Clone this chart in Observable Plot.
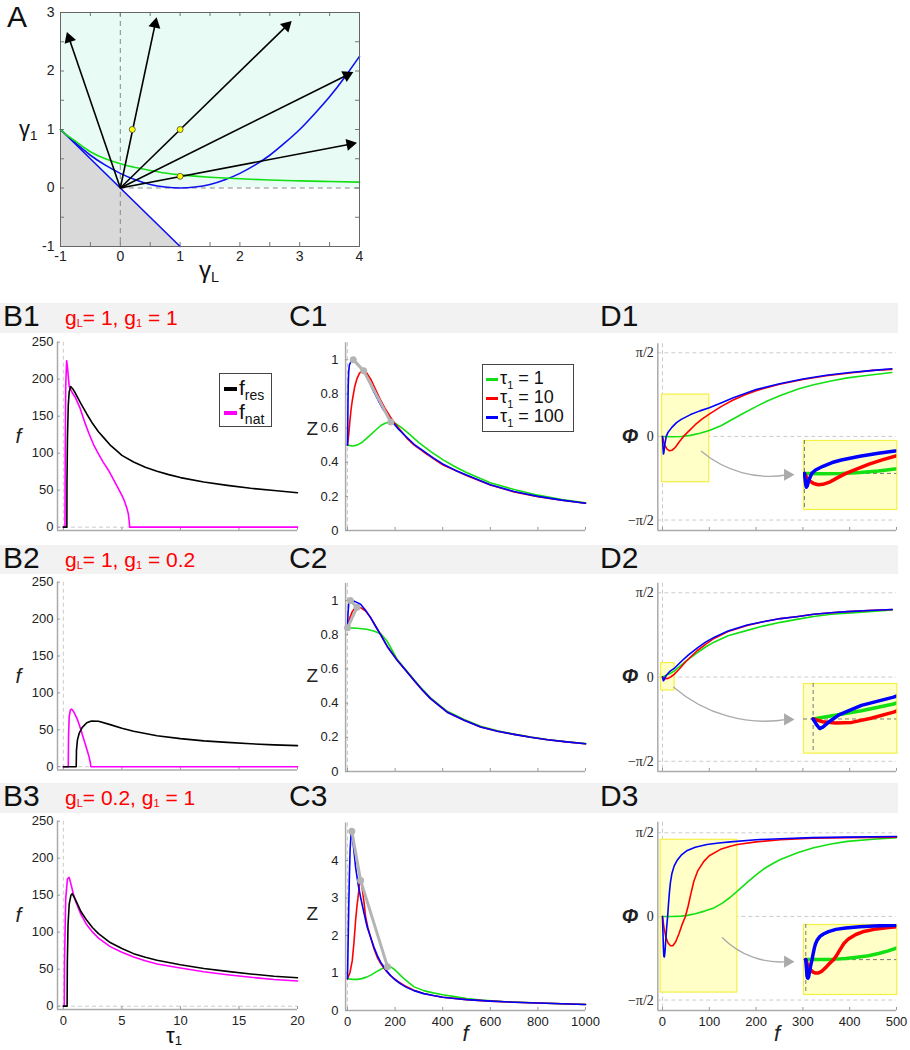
<!DOCTYPE html>
<html><head><meta charset="utf-8">
<script src="https://cdn.jsdelivr.net/npm/d3@7"></script>
<script src="https://cdn.jsdelivr.net/npm/@observablehq/plot@0.6"></script>
<style>
body{margin:0;background:#fff;font-family:"Liberation Sans",Arial,sans-serif;}
#fig{position:relative;width:910px;height:1050px;overflow:hidden;}
.bar{position:absolute;left:0;width:898px;background:#f2f2f2;}
.plab{position:absolute;font-size:30px;line-height:28px;color:#111;}
.red{position:absolute;font-size:21px;line-height:1;color:#f00;white-space:nowrap;}
.red sub{font-size:11px;vertical-align:-2px;}
.ax{position:absolute;line-height:1;color:#111;white-space:nowrap;}
.ax sub{font-size:60%;vertical-align:-4px;}
.legend{position:absolute;border:1px solid #444;background:#fff;box-sizing:border-box;}
.lrow{position:absolute;left:4px;white-space:nowrap;line-height:1;color:#111;}
.lrow i{display:inline-block;width:13px;height:4px;vertical-align:middle;margin-right:2px;}
</style></head><body><div id="fig"></div>
<script>
// ================= DATA =================
// Panel A
const aBlueLine = [[-1,1],[1,-1]];
const aBlueParabola = [[-1,1],[-0.75,0.77],[-0.5,0.56],[-0.25,0.39],[0,0.25],[0.25,0.14],[0.5,0.06],[0.75,0.016],[1,0],[1.25,0.016],[1.5,0.06],[1.75,0.14],[2,0.25],[2.25,0.39],[2.5,0.56],[2.75,0.77],[3,1],[3.25,1.27],[3.5,1.56],[3.75,1.89],[4,2.25]];
const aGreen = [[-1,1],[-0.9,0.91],[-0.75,0.8],[-0.5,0.62],[-0.25,0.5],[0,0.415],[0.25,0.35],[0.5,0.3],[0.75,0.255],[1,0.225],[1.5,0.185],[2,0.157],[2.5,0.137],[3,0.122],[3.5,0.11],[4,0.1]];
const aArrowEnds = [[-0.89,2.66],[0.605,2.91],[2.86,2.85],[3.89,1.98],[3.95,0.77]];
const aPoints = [[0.2,1],[1,1],[1,0.2]];
const aCyanRegion = [{x:-1,y1:1,y2:3},{x:0,y1:0,y2:3},{x:4,y1:0,y2:3}];
const aGrayRegion = [{x:-1,y1:-1,y2:1},{x:1,y1:-1,y2:-1}];
const aXTicks = [-1,0,1,2,3,4];
const aYTicks = [-1,0,1,2,3];
const aXMinor = [-0.5,0,0.5,1,1.5,2,2.5,3,3.5];
const aYMinor = [-0.5,0,0.5,1,1.5,2,2.5];

// Row headers
const rowTags = ["1","2","3"];
const rowParams = [["1","1"],["1","0.2"],["0.2","1"]];

// Panels B (tau1, f)
const bTicksY = [0,50,100,150,200,250];
const bTicksX = [0,5,10,15,20];
const b1Fres = [[0,0],[0.3,0],[0.31,60],[0.35,120],[0.42,165],[0.5,183],[0.62,190],[0.8,187],[1,182],[1.5,167],[2,153],[2.5,140],[3,129],[3.5,120],[4,111],[4.5,104],[5,97],[6,88],[7,81],[8,75.5],[9,71],[10,67],[12,61],[14,56.5],[16,52.5],[18,49.5],[20,46.5]];
const b1Fnat = [[0,0],[0.14,0],[0.16,100],[0.2,190],[0.28,225],[0.36,215],[0.5,190],[0.75,182],[1,176],[1.4,162],[1.8,143],[2.2,126],[2.6,111],[3,99],[3.4,88],[3.85,77],[4.3,64],[4.7,52],[5,43],[5.2,36],[5.4,27],[5.55,18],[5.62,9],[5.66,0],[20,0]];
const b2Fres = [[0,0],[1.1,0],[1.12,22],[1.2,36],[1.35,45],[1.6,53],[2,59.5],[2.4,62],[3,61.5],[4,57],[5,52],[6,48],[7,45],[8,42],[10,38],[12,35],[14,33],[16,31],[18,29.5],[20,28.5]];
const b2Fnat = [[0,0],[0.42,0],[0.44,40],[0.5,68],[0.6,77],[0.7,78],[0.9,74],[1.2,64],[1.5,50],[1.8,34],[2.0,24],[2.2,13],[2.3,6],[2.35,0],[20,0]];
const b3Fres = [[0,0],[0.32,0],[0.34,60],[0.4,110],[0.5,138],[0.65,150],[0.75,152],[1,145],[1.5,128],[2,116],[2.5,106],[3,98],[4,86],[5,78],[6,71],[7,66],[8,62],[10,56],[12,51],[14,47],[16,43.5],[18,40.5],[20,38.5]];
const b3Fnat = [[0,0],[0.08,0],[0.1,60],[0.2,145],[0.35,172],[0.5,174],[0.65,165],[0.85,152],[1,144],[1.5,124],[2,110],[2.5,100],[3,92],[4,80.5],[5,73],[6,66.5],[7,61.5],[8,57],[10,51.5],[12,46.5],[14,42.5],[16,39],[18,36],[20,34]];

// Panels C (f, Z)
const cTicksX = [0,200,400,600,800,1000];
const cTicksY12 = [0,0.2,0.4,0.6,0.8,1];
const cTicksY3 = [0,1,2,3,4];
const c1Green = [[0,0.5],[20,0.495],[40,0.5],[60,0.515],[80,0.54],[100,0.565],[120,0.59],[140,0.615],[160,0.63],[180,0.635],[200,0.628],[230,0.6],[260,0.565],[300,0.515],[350,0.462],[400,0.415],[450,0.375],[500,0.34],[600,0.28],[700,0.24],[800,0.207],[900,0.182],[1000,0.162]];
const c1Red = [[0,0.5],[5,0.56],[10,0.64],[15,0.71],[20,0.76],[30,0.84],[40,0.89],[50,0.92],[60,0.934],[70,0.935],[80,0.925],[100,0.88],[120,0.82],[140,0.76],[160,0.71],[180,0.665],[200,0.625],[250,0.54],[280,0.5],[320,0.46],[400,0.385],[500,0.322],[600,0.266],[700,0.226],[800,0.198],[900,0.177],[1000,0.16]];
const c1Blue = [[0,0.5],[1,0.6],[2,0.75],[3,0.85],[5,0.93],[8,0.97],[15,0.99],[24,1.0],[40,0.98],[55,0.955],[70,0.93],[90,0.875],[110,0.815],[130,0.76],[150,0.71],[180,0.65],[210,0.6],[250,0.545],[280,0.505],[320,0.465],[360,0.425],[400,0.39],[450,0.355],[500,0.325],[600,0.268],[700,0.228],[800,0.2],[900,0.178],[1000,0.16]];
const c1Peaks = [[24,1.0],[68,0.935],[182,0.635]];
const c2Green = [[0,0.84],[40,0.838],[80,0.832],[110,0.822],[140,0.805],[165,0.765],[180,0.728],[209,0.655],[245,0.595],[279,0.538],[315,0.48],[349,0.431],[385,0.39],[419,0.352],[490,0.304],[559,0.264],[630,0.238],[699,0.219],[770,0.201],[840,0.187],[920,0.174],[1000,0.163]];
const c2Red = [[0,0.84],[5,0.87],[10,0.9],[20,0.935],[30,0.953],[40,0.96],[55,0.958],[75,0.94],[97,0.9],[120,0.845],[139,0.8],[170,0.725],[209,0.65],[245,0.59],[279,0.533],[315,0.475],[349,0.426],[385,0.385],[419,0.347],[490,0.3],[559,0.26],[630,0.235],[699,0.217],[770,0.2],[840,0.186],[920,0.173],[1000,0.162]];
const c2Blue = [[0,0.84],[2,0.92],[5,0.98],[12,1.0],[30,0.995],[55,0.978],[75,0.945],[97,0.9],[120,0.845],[139,0.8],[170,0.725],[209,0.65],[245,0.59],[279,0.533],[315,0.475],[349,0.426],[385,0.385],[419,0.347],[490,0.3],[559,0.26],[630,0.235],[699,0.217],[770,0.2],[840,0.186],[920,0.173],[1000,0.162]];
const c2Peaks = [[0,0.84],[40,0.96],[12,1.0]];
const c3Green = [[0,0.845],[20,0.83],[40,0.83],[60,0.85],[80,0.89],[100,0.95],[120,1.03],[140,1.1],[160,1.16],[170,1.17],[185,1.15],[200,1.08],[230,0.89],[260,0.73],[280,0.63],[320,0.53],[360,0.47],[400,0.42],[450,0.37],[500,0.32],[560,0.28],[650,0.24],[800,0.2],[900,0.18],[1000,0.16]];
const c3Red = [[0,0.845],[10,1.0],[20,1.33],[27,1.8],[34,2.4],[40,2.8],[44,3.0],[50,3.35],[55,3.47],[60,3.35],[65,3.1],[70,2.85],[76,2.5],[86,2.2],[97,1.95],[110,1.67],[125,1.42],[139,1.26],[153,1.13],[170,1.0],[190,0.88],[210,0.78],[240,0.66],[279,0.54],[320,0.455],[360,0.4],[400,0.355],[500,0.29],[600,0.25],[700,0.22],[800,0.2],[900,0.18],[1000,0.16]];
const c3Blue = [[0,0.845],[2,1.6],[5,2.7],[8,3.6],[11,4.3],[15,4.7],[18,4.78],[22,4.55],[28,4.2],[34,3.82],[45,3.35],[55,3.02],[70,2.58],[83,2.22],[100,1.9],[111,1.69],[125,1.47],[139,1.29],[160,1.09],[181,0.93],[200,0.82],[223,0.71],[250,0.61],[279,0.53],[320,0.45],[360,0.4],[400,0.355],[450,0.32],[500,0.29],[600,0.25],[700,0.22],[800,0.2],[900,0.18],[1000,0.16]];
const c3Peaks = [[18,4.78],[55,3.47],[168,1.17]];

// Panels D (f, phase)
const dTicksX = [0,100,200,300,400,500];
const dTicksY = [-Math.PI/2, 0, Math.PI/2];
const d1Green = [[0,0],[20,-0.005],[40,0],[60,0.02],[80,0.06],[100,0.11],[125,0.2],[145,0.3],[170,0.42],[200,0.56],[225,0.67],[252,0.77],[290,0.89],[323,0.97],[360,1.04],[395,1.1],[440,1.15],[490,1.2]];
const d1Red = [[0,0],[2,-0.08],[5,-0.17],[10,-0.24],[15,-0.27],[20,-0.26],[28,-0.2],[36,-0.1],[45,0],[55,0.09],[70,0.22],[85,0.33],[100,0.42],[125,0.56],[150,0.68],[175,0.78],[200,0.86],[250,0.98],[300,1.07],[350,1.14],[400,1.19],[450,1.24],[490,1.26]];
const d1Blue = [[0,0],[1,-0.2],[2,-0.33],[3,-0.3],[5,-0.15],[8,0],[12,0.08],[20,0.17],[30,0.26],[40,0.32],[60,0.41],[80,0.48],[100,0.54],[125,0.63],[150,0.72],[175,0.8],[200,0.88],[250,0.99],[300,1.08],[350,1.15],[400,1.2],[450,1.24],[490,1.27]];
const d2Green = [[0,0],[5,0.02],[10,0.04],[15,0.06],[25,0.11],[40,0.22],[55,0.33],[74,0.45],[92,0.56],[110,0.65],[140,0.77],[181,0.87],[215,0.95],[252,1.02],[290,1.08],[323,1.13],[360,1.17],[395,1.19],[440,1.22],[491,1.25]];
const d2Red = [[0,0],[3,-0.02],[7,-0.03],[12,-0.025],[18,0.005],[25,0.05],[35,0.14],[50,0.29],[74,0.49],[92,0.61],[110,0.72],[140,0.85],[181,0.96],[215,1.03],[252,1.09],[290,1.13],[323,1.17],[360,1.2],[395,1.22],[440,1.24],[491,1.26]];
const d2Blue = [[0,0],[1,-0.04],[2,-0.07],[3,-0.06],[5,-0.02],[8,0.03],[15,0.1],[25,0.16],[40,0.29],[55,0.41],[74,0.54],[92,0.65],[110,0.74],[140,0.86],[181,0.97],[215,1.03],[252,1.09],[290,1.13],[323,1.17],[360,1.2],[395,1.22],[440,1.24],[491,1.26]];
const d3Green = [[0,0],[20,0],[40,0.005],[53,0.02],[70,0.05],[90,0.1],[110,0.16],[128,0.25],[145,0.36],[163,0.5],[181,0.64],[200,0.78],[216,0.89],[235,0.99],[252,1.07],[290,1.2],[323,1.29],[360,1.36],[395,1.41],[450,1.45],[500,1.48]];
const d3Red = [[0,0],[3,-0.2],[7,-0.38],[12,-0.5],[17,-0.55],[22,-0.55],[28,-0.48],[35,-0.33],[42,-0.15],[49,0],[55,0.2],[60,0.4],[67,0.66],[75,0.85],[88,1.03],[100,1.14],[124,1.26],[145,1.32],[160,1.35],[200,1.4],[252,1.44],[320,1.47],[395,1.48],[500,1.49]];
const d3Blue = [[0,0],[1,-0.3],[2,-0.6],[3,-0.75],[4,-0.76],[5,-0.7],[7,-0.45],[9,-0.2],[11,0],[13,0.25],[15,0.47],[17,0.64],[20,0.8],[25,0.95],[31,1.05],[40,1.15],[53,1.24],[70,1.3],[95,1.35],[120,1.38],[145,1.4],[200,1.44],[252,1.46],[320,1.48],[395,1.49],[500,1.5]];
// zoom boxes [f1, f2, phi1, phi2]
const dZoomBoxes = [[-1,100,-0.86,0.785],[-3,26,-0.25,0.26],[-4,160,-1.43,1.44]];
// annotation arrows [fStart, phiStart, fEnd, phiEnd]
const dZoomArrows = [[83,-0.28,280,-0.72],[24,-0.19,280,-0.79],[128,-0.40,280,-0.85]];

// ================= LAYOUT HELPERS =================
const fig = document.getElementById("fig");
function put(el, left, top){ el.style.position="absolute"; el.style.left=left+"px"; el.style.top=top+"px"; fig.appendChild(el); return el; }
function html(str, cls, left, top, extra){ const d=document.createElement("div"); d.className=cls; d.innerHTML=str; if(extra) Object.assign(d.style, extra); return put(d,left,top); }
function panel(box, frame, x, y, marks, font){
  const p = Plot.plot({
    width: box.w, height: box.h,
    marginLeft: frame.L-box.left, marginRight: box.left+box.w-frame.R,
    marginTop: frame.T-box.top, marginBottom: box.top+box.h-frame.B,
    x, y,
    style:{background:"transparent", fontFamily:font||"Liberation Sans, Arial, sans-serif", fontSize:"13px", color:"#222", overflow:"visible"},
    marks
  });
  return put(p, box.left, box.top);
}
const xy = {x:d=>d[0], y:d=>d[1]};
const plain = d => String(d);
const GREEN="#12e012", RED="#ff0000", BLUE="#0000ff", MAG="#ff00ff";

// ================= PANEL A =================
{
  const box={left:0,top:0,w:380,h:290}, frame={L:60,T:12,R:359,B:246};
  const fw=frame.R-frame.L, fh=frame.B-frame.T, kx=fw/5, ky=fh/4;
  const arrows = aArrowEnds.map(([ex,ey])=>{
    const sx=ex*kx, sy=ey*ky, len=Math.hypot(sx,sy), ux=sx/len, uy=sy/len;
    return {x1:0,y1:0,x2:ex-8*ux/kx,y2:ey-8*uy/ky,hx:ex-6.5*ux/kx,hy:ey-6.5*uy/ky,rot:Math.atan2(sx,sy)*180/Math.PI};
  });
  panel(box, frame, {domain:[-1,4], axis:null}, {domain:[-1,3], axis:null}, [
    Plot.areaY(aCyanRegion,{x:"x",y1:"y1",y2:"y2",fill:"#e8fbf4"}),
    Plot.areaY(aGrayRegion,{x:"x",y1:"y1",y2:"y2",fill:"#d9d9d9"}),
    Plot.ruleX([0],{stroke:"#888",strokeDasharray:"5,4"}),
    Plot.ruleY([{y:0,x1:0,x2:4}],{y:"y",x1:"x1",x2:"x2",stroke:"#888",strokeDasharray:"5,4"}),
    Plot.tickX(aXMinor,{x:d=>d,insetTop:fh-4,stroke:"#777"}),
    Plot.tickX(aXMinor,{x:d=>d,insetBottom:fh-4,stroke:"#777"}),
    Plot.tickY(aYMinor,{y:d=>d,insetRight:fw-4,stroke:"#777"}),
    Plot.tickY(aYMinor,{y:d=>d,insetLeft:fw-4,stroke:"#777"}),
    Plot.line(aBlueLine,{...xy,stroke:"#1010f0",strokeWidth:1.6}),
    Plot.line(aBlueParabola,{...xy,stroke:"#1010f0",strokeWidth:1.6,curve:"natural"}),
    Plot.line(aGreen,{...xy,stroke:GREEN,strokeWidth:1.6,curve:"natural"}),
    Plot.link(arrows,{x1:"x1",y1:"y1",x2:"x2",y2:"y2",stroke:"#000",strokeWidth:1.6}),
    Plot.dot(arrows,{x:"hx",y:"hy",symbol:"triangle",r:4.5,fill:"#000",rotate:"rot"}),
    Plot.dot(aPoints,{...xy,r:3,fill:"#ffff00",stroke:"#444",strokeWidth:0.8}),
    Plot.frame({stroke:"#666"}),
    Plot.axisX({ticks:aXTicks,tickSize:0,tickPadding:5,fontSize:14,tickFormat:plain}),
    Plot.axisY({ticks:aYTicks,tickSize:0,tickPadding:6,fontSize:14,tickFormat:plain})
  ]);
  html("A","plab",7,0,{fontSize:"30px",lineHeight:"34px"});
  html("γ<sub>1</sub>","ax",19,118,{fontSize:"22px"});
  html("γ<sub>L</sub>","ax",199,258,{fontSize:"24px"});
}

// ================= ROW HEADERS =================
const bars=[{top:303,h:30},{top:545,h:29},{top:783,h:30}];
bars.forEach((b,i)=>{
  const d=document.createElement("div"); d.className="bar"; d.style.height=b.h+"px"; put(d,0,b.top);
  const c=b.top+b.h/2;
  html("B"+rowTags[i],"plab",3,b.top-1);
  html("C"+rowTags[i],"plab",289,b.top-1);
  html("D"+rowTags[i],"plab",600,b.top-1);
  html(`g<sub>L</sub>= ${rowParams[i][0]}, g<sub>1</sub> = ${rowParams[i][1]}`,"red",65,c-11);
});

// ================= PANELS B =================
const bRows=[
  {fres:b1Fres,fnat:b1Fnat,box:{left:0,top:335,w:300,h:205},frame:{L:57,R:297,T:341.7,B:530}},
  {fres:b2Fres,fnat:b2Fnat,box:{left:0,top:575,w:300,h:205},frame:{L:57,R:297,T:581.7,B:769.5}},
  {fres:b3Fres,fnat:b3Fnat,box:{left:0,top:815,w:300,h:235},frame:{L:57,R:297,T:820.7,B:1009}}
];
bRows.forEach((r,i)=>{
  const fw=r.frame.R-r.frame.L, fh=r.frame.B-r.frame.T, last=i===2;
  panel(r.box, r.frame, {domain:[-0.5,20], axis:null}, {domain:[-4.5,250], axis:null}, [
    Plot.ruleX([0],{stroke:"#ccc",strokeDasharray:"4,3"}),
    Plot.ruleY([0],{stroke:"#ccc",strokeDasharray:"4,3"}),
    Plot.ruleX([-0.5],{stroke:"#aaa",strokeWidth:1.5}),
    Plot.ruleY([-4.5],{stroke:"#aaa",strokeWidth:1.5}),
    Plot.tickX(bTicksX,{x:d=>d,insetTop:fh-3,stroke:"#999"}),
    Plot.tickY(bTicksY,{y:d=>d,insetRight:fw-3,stroke:"#999"}),
    Plot.line(r.fnat,{...xy,stroke:MAG,strokeWidth:1.6}),
    Plot.line(r.fres,{...xy,stroke:"#000",strokeWidth:1.6}),
    Plot.axisY({ticks:bTicksY,tickSize:0,tickPadding:4,fontSize:13,tickFormat:plain}),
    last ? Plot.axisX({ticks:bTicksX,tickSize:0,tickPadding:6,fontSize:13,tickFormat:plain}) : null,
    Plot.text(["f"],{frameAnchor:"left",dx:-42,fontStyle:"italic",fontSize:21})
  ]);
});
html("τ<sub style='vertical-align:-2px'>1</sub>","ax",166,1026,{fontSize:"22px",lineHeight:"20px"});
// legend B1
{
  const lg=html("","legend",219,373,{width:"53px",height:"54px"});
  lg.innerHTML=`<div class="lrow" style="top:3px;font-size:21px"><i style="background:#000"></i>f<sub style="font-size:14px">res</sub></div>
  <div class="lrow" style="top:27px;font-size:21px"><i style="background:${MAG}"></i>f<sub style="font-size:14px">nat</sub></div>`;
}

// ================= PANELS C =================
const cRows=[
  {g:c1Green,r:c1Red,b:c1Blue,pk:c1Peaks,yd:[0,1.1],ticks:cTicksY12,box:{left:290,top:335,w:310,h:205},frame:{L:345.1,R:585,T:342.2,B:530},dy:-8},
  {g:c2Green,r:c2Red,b:c2Blue,pk:c2Peaks,yd:[0,1.1],ticks:cTicksY12,box:{left:290,top:575,w:310,h:205},frame:{L:345.1,R:585,T:582.9,B:771},dy:-2},
  {g:c3Green,r:c3Red,b:c3Blue,pk:c3Peaks,yd:[0,5],ticks:cTicksY3,box:{left:290,top:815,w:310,h:235},frame:{L:345.1,R:585,T:822.5,B:1010},dy:-3}
];
cRows.forEach((r,i)=>{
  const fw=r.frame.R-r.frame.L, fh=r.frame.B-r.frame.T, last=i===2;
  panel(r.box, r.frame, {domain:[-8,1000], axis:null}, {domain:r.yd, axis:null}, [
    Plot.ruleX([0],{stroke:"#ccc",strokeDasharray:"4,3"}),
    Plot.ruleX([-8],{stroke:"#aaa",strokeWidth:1.5}),
    Plot.ruleY([0],{stroke:"#aaa",strokeWidth:1.5}),
    Plot.tickX(cTicksX,{x:d=>d,insetTop:fh-3,stroke:"#999"}),
    Plot.tickY(r.ticks,{y:d=>d,insetRight:fw-3,stroke:"#999"}),
    Plot.line(r.g,{...xy,stroke:GREEN,strokeWidth:1.6}),
    Plot.line(r.r,{...xy,stroke:RED,strokeWidth:1.6}),
    Plot.line(r.b,{...xy,stroke:BLUE,strokeWidth:1.6}),
    Plot.line(r.pk,{...xy,stroke:"#b4b4b4",strokeWidth:3}),
    Plot.dot(r.pk,{...xy,fill:"#b4b4b4",r:3.5}),
    Plot.axisY({ticks:r.ticks,tickSize:0,tickPadding:7,fontSize:13,tickFormat:plain}),
    last ? Plot.axisX({ticks:cTicksX,tickSize:0,tickPadding:6,fontSize:13,tickFormat:plain}) : null,
    Plot.text(["Z"],{frameAnchor:"left",dx:-39,dy:r.dy,fontSize:19}),
    last ? Plot.text(["f"],{frameAnchor:"bottom",dy:30,fontStyle:"italic",fontSize:22}) : null
  ]);
});
// legend C1
{
  const lg=html("","legend",482,364,{width:"92px",height:"68px"});
  const ent=[[GREEN,"1"],[RED,"10"],[BLUE,"100"]];
  lg.innerHTML=ent.map((e,k)=>`<div class="lrow" style="top:${4+k*19}px;font-size:18px;left:3px"><i style="background:${e[0]};width:12px;height:3px"></i>τ<sub style="font-size:11px">1</sub> = ${e[1]}</div>`).join("");
}

// ================= PANELS D =================
const dRows=[
  {g:d1Green,r:d1Red,b:d1Blue,box:{left:600,top:335,w:310,h:205},frame:{L:657.3,R:896,T:343.3,B:530},yd:[-1.767,1.74],inset:{left:802.7,top:440.3,w:93.3,h:69}},
  {g:d2Green,r:d2Red,b:d2Blue,box:{left:600,top:575,w:310,h:205},frame:{L:657.3,R:896,T:582.7,B:770.9},yd:[-1.76,1.75],inset:{left:802.7,top:682.7,w:93.3,h:69.6}},
  {g:d3Green,r:d3Red,b:d3Blue,box:{left:600,top:815,w:310,h:235},frame:{L:657.3,R:896,T:821.7,B:1010},yd:[-1.767,1.77],inset:{left:802.7,top:924,w:93.3,h:70}}
];
const fmtPhi = d => d===0 ? "0" : (d>0 ? "π/2" : "−π/2");
dRows.forEach((r,i)=>{
  const fw=r.frame.R-r.frame.L, fh=r.frame.B-r.frame.T, last=i===2;
  const zb=dZoomBoxes[i], za=dZoomArrows[i];
  const arrowData=[{x1:za[0],y1:za[1],x2:za[2]-6/0.468,y2:za[3]}];
  const headData=[{x:za[2]-6/0.468,y:za[3]}];
  panel(r.box, r.frame, {domain:[-10,500], axis:null}, {domain:r.yd, axis:null}, [
    Plot.ruleY(dTicksY,{y:d=>d,stroke:"#ccc",strokeDasharray:"4,3"}),
    Plot.ruleX([0],{stroke:"#ccc",strokeDasharray:"4,3"}),
    Plot.ruleX([-10],{stroke:"#aaa",strokeWidth:1.5}),
    Plot.ruleY([r.yd[0]],{stroke:"#aaa",strokeWidth:1.5}),
    Plot.tickX(dTicksX,{x:d=>d,insetTop:fh-3,stroke:"#999"}),
    Plot.rect([zb],{x1:d=>d[0],x2:d=>d[1],y1:d=>d[2],y2:d=>d[3],fill:"#ffffc8",stroke:"#f4f044",strokeWidth:1.2}),
    Plot.line(r.g,{...xy,stroke:GREEN,strokeWidth:1.6}),
    Plot.line(r.r,{...xy,stroke:RED,strokeWidth:1.6}),
    Plot.line(r.b,{...xy,stroke:BLUE,strokeWidth:1.6}),
    Plot.arrow(arrowData,{x1:"x1",y1:"y1",x2:"x2",y2:"y2",bend:-25,headLength:0,stroke:"#aaa",strokeWidth:1.3}),
    Plot.dot(headData,{x:"x",y:"y",symbol:"triangle",rotate:90,r:4.5,fill:"#aaa"}),
    Plot.axisY({ticks:dTicksY,tickSize:0,tickPadding:4,tickFormat:fmtPhi,fontSize:14,fontFamily:"Liberation Serif, Times New Roman, serif"}),
    last ? Plot.axisX({ticks:dTicksX,tickSize:0,tickPadding:6,fontSize:13,tickFormat:plain}) : null,
    Plot.text([0],{y:d=>d,frameAnchor:"left",dx:-36,text:()=>"Φ",fontStyle:"italic",fontSize:20,fontWeight:"bold"}),
    last ? Plot.text(["f"],{frameAnchor:"bottom",dy:30,fontStyle:"italic",fontSize:22}) : null
  ]);
  // inset (magnified view of the yellow box)
  const ib=r.inset;
  panel({left:ib.left,top:ib.top,w:ib.w,h:ib.h},{L:ib.left,R:ib.left+ib.w,T:ib.top,B:ib.top+ib.h},
    {domain:[zb[0],zb[1]],axis:null},{domain:[zb[2],zb[3]],axis:null},[
    Plot.frame({fill:"#ffffc8",stroke:"#f4f044",strokeWidth:1.2}),
    Plot.ruleX([0],{stroke:"#777",strokeDasharray:"4,3"}),
    Plot.ruleY([0],{stroke:"#777",strokeDasharray:"4,3"}),
    Plot.line(r.g,{...xy,stroke:GREEN,strokeWidth:3.5,clip:true}),
    Plot.line(r.r,{...xy,stroke:RED,strokeWidth:3.5,clip:true}),
    Plot.line(r.b,{...xy,stroke:BLUE,strokeWidth:3.5,clip:true})
  ]);
});
</script></body></html>
